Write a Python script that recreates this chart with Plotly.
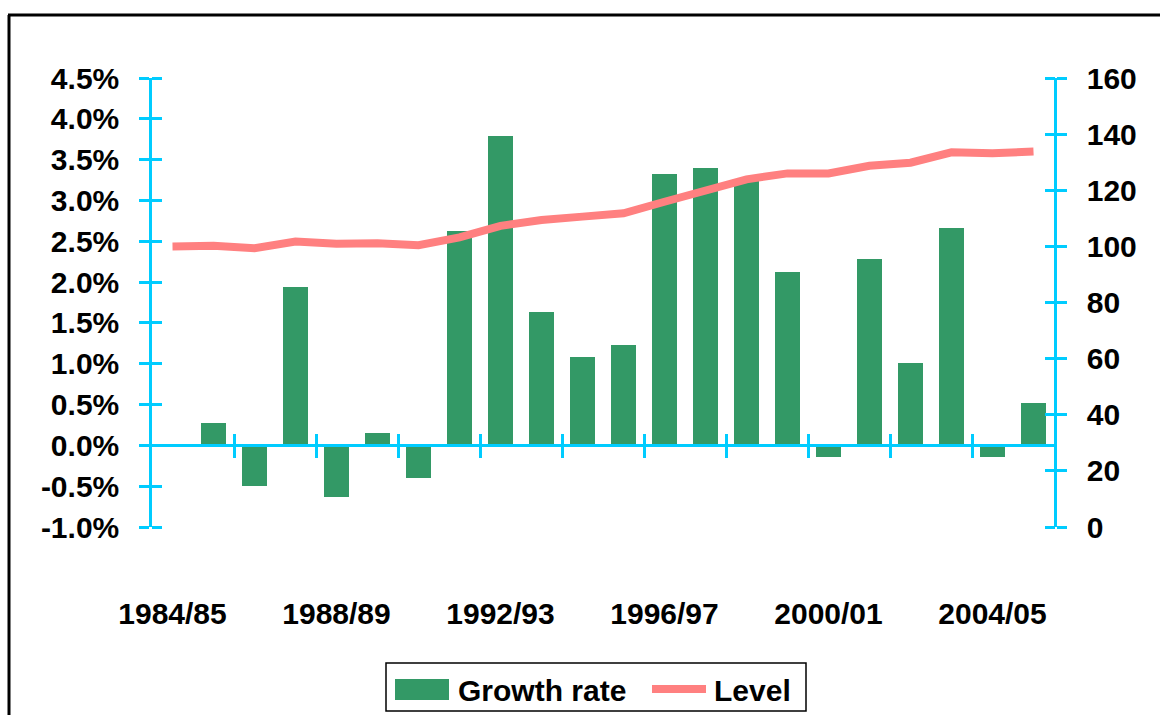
import plotly.graph_objects as go

# Financial years on the category axis
years = ["1984/85", "1985/86", "1986/87", "1987/88", "1988/89", "1989/90",
         "1990/91", "1991/92", "1992/93", "1993/94", "1994/95", "1995/96",
         "1996/97", "1997/98", "1998/99", "1999/00", "2000/01", "2001/02",
         "2002/03", "2003/04", "2004/05", "2005/06"]

# Annual growth rate (%) - no rate for the base year
growth_rate = [None, 0.27, -0.50, 1.94, -0.63, 0.15, -0.40, 2.63, 3.79, 1.63,
               1.08, 1.23, 3.32, 3.40, 3.26, 2.12, -0.14, 2.28, 1.01, 2.66,
               -0.14, 0.52]

# Index level (1984/85 = 100)
level = [100.0, 100.2, 99.3, 101.7, 100.9, 101.1, 100.4, 103.2, 107.3, 109.4,
         110.6, 111.8, 115.9, 120.1, 123.9, 126.0, 126.0, 128.7, 129.8, 133.5,
         133.2, 133.8]

# Axis ticks
pct_ticks = [-1.0, -0.5, 0.0, 0.5, 1.0, 1.5, 2.0, 2.5, 3.0, 3.5, 4.0, 4.5]
pct_labels = ["-1.0%", "-0.5%", "0.0%", "0.5%", "1.0%", "1.5%", "2.0%",
              "2.5%", "3.0%", "3.5%", "4.0%", "4.5%"]
level_ticks = [0, 20, 40, 60, 80, 100, 120, 140, 160]
year_label_step = 4

BAR_GREEN = "#339966"
LINE_PINK = "#FF8080"
AXIS_CYAN = "#00CCFF"
FAMILY = "Liberation Sans, Arial, sans-serif"
BOLD30 = dict(family=FAMILY, size=30, color="black", weight="bold")

W, H = 1160, 715
M_L, M_R, M_T, M_B = 152, 106, 78, 188
PLOT_W = W - M_L - M_R
PLOT_H = H - M_T - M_B
TICK_LEN = 10


def px_x(p):
    return (p - M_L) / PLOT_W


def px_y(p):
    return (H - M_B - p) / PLOT_H


x_idx = list(range(len(years)))
pct_range = [pct_ticks[0], pct_ticks[-1]]
lvl_range = [level_ticks[0], level_ticks[-1]]
x_range = [-0.5, len(years) - 0.5]
zero_pos = (0 - pct_range[0]) / (pct_range[1] - pct_range[0])
boundaries = [i + 0.5 for i in range(1, len(years) - 1, 2)]

fig = go.Figure()
fig.add_trace(go.Bar(x=x_idx, y=growth_rate, name="Growth rate",
                     marker=dict(color=BAR_GREEN, line=dict(width=0)),
                     width=0.63, yaxis="y", xaxis="x"))
fig.add_trace(go.Scatter(x=x_idx, y=level, name="Level", mode="lines",
                         line=dict(color=LINE_PINK, width=8),
                         yaxis="y2", xaxis="x"))
# empty carriers so the overlay axes (crossing tick halves) get drawn
fig.add_trace(go.Scatter(x=[None], y=[None], xaxis="x2", yaxis="y3",
                         showlegend=False, hoverinfo="skip"))
fig.add_trace(go.Scatter(x=[None], y=[None], xaxis="x3", yaxis="y4",
                         showlegend=False, hoverinfo="skip"))

tick_style = dict(tickcolor=AXIS_CYAN, tickwidth=2.5, ticklen=TICK_LEN,
                  showgrid=False, zeroline=False)
x_tick_style = {**tick_style, "ticklen": 11}
inner_shift = TICK_LEN / PLOT_W

fig.update_layout(
    width=W, height=H,
    margin=dict(l=M_L, r=M_R, t=M_T, b=M_B, pad=0),
    paper_bgcolor="white", plot_bgcolor="white",
    font=dict(family=FAMILY, size=30, color="black"),
    showlegend=False,
    bargap=0,
    xaxis=dict(range=x_range, tickvals=x_idx[::year_label_step],
               ticktext=years[::year_label_step], ticks="", showline=False,
               showgrid=False, zeroline=False, ticklabelstandoff=66,
               tickfont=BOLD30),
    # zero line of the growth axis, tick marks crossing it
    xaxis2=dict(range=x_range, overlaying="x", anchor="free", position=zero_pos,
                showline=True, linecolor=AXIS_CYAN, linewidth=2.5,
                tickvals=boundaries, ticks="outside", showticklabels=False,
                **x_tick_style),
    xaxis3=dict(range=x_range, overlaying="x", anchor="free", position=zero_pos,
                showline=False, tickvals=boundaries, ticks="inside",
                showticklabels=False, **x_tick_style),
    yaxis=dict(range=pct_range, tickvals=pct_ticks, ticktext=pct_labels,
               ticks="outside", showline=True, linecolor=AXIS_CYAN,
               linewidth=2.5, ticklabelstandoff=14, tickfont=BOLD30,
               **tick_style),
    # inner halves of the left ticks
    yaxis3=dict(range=pct_range, tickvals=pct_ticks, overlaying="y",
                side="left", anchor="free", position=inner_shift,
                ticks="outside", showticklabels=False, showline=False,
                **tick_style),
    yaxis2=dict(range=lvl_range, tickvals=level_ticks,
                overlaying="y", side="right", anchor="x", ticks="outside",
                showline=True, linecolor=AXIS_CYAN, linewidth=2.5,
                ticklabelstandoff=14, tickfont=BOLD30, **tick_style),
    # inner halves of the right ticks
    yaxis4=dict(range=lvl_range, tickvals=level_ticks,
                overlaying="y", side="right", anchor="free",
                position=1 - inner_shift, ticks="outside",
                showticklabels=False, showline=False, **tick_style),
)

shapes = [
    # chart frame (left and top edges fall inside the page)
    dict(type="line", xref="paper", yref="paper",
         x0=px_x(9), x1=px_x(9), y0=px_y(H + 5), y1=px_y(15),
         line=dict(color="black", width=3)),
    dict(type="line", xref="paper", yref="paper",
         x0=px_x(8), x1=px_x(W + 5), y0=px_y(15), y1=px_y(15),
         line=dict(color="black", width=3)),
    # legend box
    dict(type="rect", xref="paper", yref="paper",
         x0=px_x(386), x1=px_x(806), y0=px_y(711), y1=px_y(663),
         line=dict(color="black", width=1.5), fillcolor="white"),
    # legend swatch: bars
    dict(type="rect", xref="paper", yref="paper",
         x0=px_x(395), x1=px_x(449), y0=px_y(700), y1=px_y(679),
         line=dict(width=0), fillcolor=BAR_GREEN),
    # legend swatch: line
    dict(type="line", xref="paper", yref="paper",
         x0=px_x(652), x1=px_x(706), y0=px_y(689), y1=px_y(689),
         line=dict(color=LINE_PINK, width=8)),
]
annotations = [
    dict(text="<b>Growth rate</b>", xref="paper", yref="paper",
         x=px_x(456), y=px_y(690), xanchor="left", yanchor="middle",
         showarrow=False, font=dict(family=FAMILY, size=30, color="black")),
    dict(text="<b>Level</b>", xref="paper", yref="paper",
         x=px_x(712), y=px_y(690), xanchor="left", yanchor="middle",
         showarrow=False, font=dict(family=FAMILY, size=30, color="black")),
]
fig.update_layout(shapes=shapes, annotations=annotations)

fig.write_html("out.html")
